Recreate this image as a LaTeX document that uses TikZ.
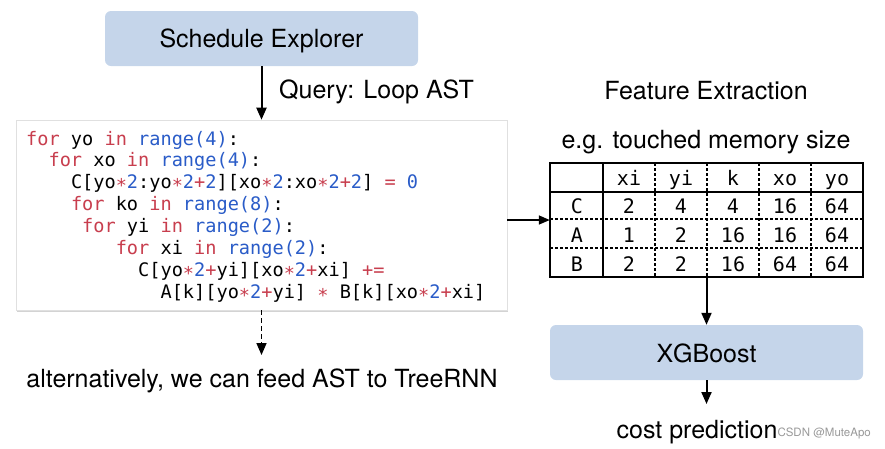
\documentclass[tikz,border=0pt]{standalone}
\usepackage{fontspec}
\setmainfont{TeX Gyre Heros}
\setmonofont{DejaVu Sans Mono}
\usetikzlibrary{arrows.meta,shadows}
\definecolor{boxblue}{RGB}{197,213,234}
\definecolor{kwred}{RGB}{200,62,78}
\definecolor{numblue}{RGB}{42,92,200}
\newcommand\ckw[1]{\textcolor{kwred}{#1}}
\newcommand\cnum[1]{\textcolor{numblue}{#1}}
\tikzset{
  bluebox/.style={fill=boxblue, rounded corners=6pt, inner sep=0pt},
  lbl/.style={inner sep=0pt, font=\fontsize{25}{29}\selectfont, anchor=base},
  codeline/.style={inner sep=0pt, anchor=base west, font=\ttfamily\fontsize{18.6}{22}\selectfont},
  cell/.style={inner sep=0pt, anchor=base, font=\ttfamily\fontsize{20}{22}\selectfont},
  arr/.style={line width=2pt, -{Triangle[width=10pt,length=12pt]}},
  tline/.style={line width=2.4pt},
  dline/.style={line width=2.2pt, dash pattern=on 3pt off 2pt},
}
\begin{document}
\begin{tikzpicture}[x=1pt,y=-1pt]
\useasboundingbox (0,0) rectangle (885,448);
% Schedule explorer
\node[bluebox, minimum width=313pt, minimum height=55pt] (se) at (261.5,38.5) {};
\node[lbl] (setxt) at (261.5,47.5) {Schedule Explorer};
% code box
\node[fill=white, draw=black!12, line width=0.6pt, inner sep=0pt, minimum width=491pt, minimum height=190pt,
      drop shadow={shadow xshift=0.6pt, shadow yshift=-1.6pt, opacity=0.35}] (code) at (261.5,215) {};
\draw[arr] (se.south) -- (code.north);
\node[lbl, anchor=base west] (query) at (279,98.5) {Query: Loop AST};
% code lines
\def\cw{11.2}
\node[codeline] (l1) at (26,145) {\ckw{for} yo \ckw{in} \cnum{range(4)}:};
\node[codeline] (l2) at (26+2*\cw,166.9) {\ckw{for} xo \ckw{in} \cnum{range(4)}:};
\node[codeline] (l3) at (26+4*\cw,188.7) {C[yo\ckw{∗}\cnum{2}:yo\ckw{∗}\cnum{2}\ckw{+}\cnum{2}][xo\ckw{∗}\cnum{2}:xo\ckw{∗}\cnum{2}\ckw{+}\cnum{2}] \ckw{=} \cnum{0}};
\node[codeline] (l4) at (26+4*\cw,210.6) {\ckw{for} ko \ckw{in} \cnum{range(8)}:};
\node[codeline] (l5) at (26+5*\cw,232.4) {\ckw{for} yi \ckw{in} \cnum{range(2)}:};
\node[codeline] (l6) at (26+8*\cw,254.3) {\ckw{for} xi \ckw{in} \cnum{range(2)}:};
\node[codeline] (l7) at (26+10*\cw,276.2) {C[yo\ckw{∗}\cnum{2}\ckw{+}yi][xo\ckw{∗}\cnum{2}\ckw{+}xi] \ckw{+=}};
\node[codeline] (l8) at (26+12*\cw,298) {A[k][yo\ckw{∗}\cnum{2}\ckw{+}yi] \ckw{∗} B[k][xo\ckw{∗}\cnum{2}\ckw{+}xi]};
% alternative
\coordinate (altend) at (261.5,355);
\draw[line width=1.6pt, dash pattern=on 5pt off 3pt, -{Triangle[width=10pt,length=12pt]}] (code.south) -- (altend);
\node[lbl] (alt) at (262,387.5) {alternatively, we can feed AST to TreeRNN};
% feature extraction
\node[lbl] (fe) at (706,99.5) {Feature Extraction};
\node[lbl] (eg) at (706,148.5) {e.g. touched memory size};
% table
\node[inner sep=0pt, minimum width=313pt, minimum height=114pt] (tbl) at (706.5,220) {};
\draw[dline] (655,163) -- (655,277) (707,163) -- (707,277) (759,163) -- (759,277) (811,163) -- (811,277);
\draw[dline] (550,219) -- (863,219) (550,248) -- (863,248);
\draw[tline] (603,163) -- (603,277) (550,192) -- (863,192);
\draw[tline] (tbl.north west) rectangle (tbl.south east);
\foreach \t [count=\i] in {xi,yi,k,xo,yo} { \node[cell] (h\i) at (577+\i*52,185) {\t}; }
\node[cell] (rc) at (577,213.5) {C};
\node[cell] (ra) at (577,242) {A};
\node[cell] (rb) at (577,271) {B};
\foreach \v [count=\i] in {2,4,4,16,64} { \node[cell] (c\i) at (577+\i*52,213.5) {\v}; }
\foreach \v [count=\i] in {1,2,16,16,64} { \node[cell] (a\i) at (577+\i*52,242) {\v}; }
\foreach \v [count=\i] in {2,2,16,64,64} { \node[cell] (b\i) at (577+\i*52,271) {\v}; }
\draw[line width=1.5pt, -{Triangle[width=9pt,length=11pt]}] (code.east |- tbl.west) -- (tbl.west);
% xgboost
\node[bluebox, minimum width=313pt, minimum height=55pt] (xgb) at (706.5,352.5) {};
\node[lbl] (xgbtxt) at (706.5,362) {XGBoost};
\draw[arr] (tbl.south) -- (xgb.north);
\coordinate (costend) at (706.5,404);
\draw[arr] (xgb.south) -- (costend);
\node[lbl] (cost) at (697,438.5) {cost prediction};
\node[inner sep=0pt, anchor=base east, text=black!40, font=\fontsize{11.5}{14}\selectfont] (wm) at (871,436) {CSDN @MuteApo};
\end{tikzpicture}
\end{document}
